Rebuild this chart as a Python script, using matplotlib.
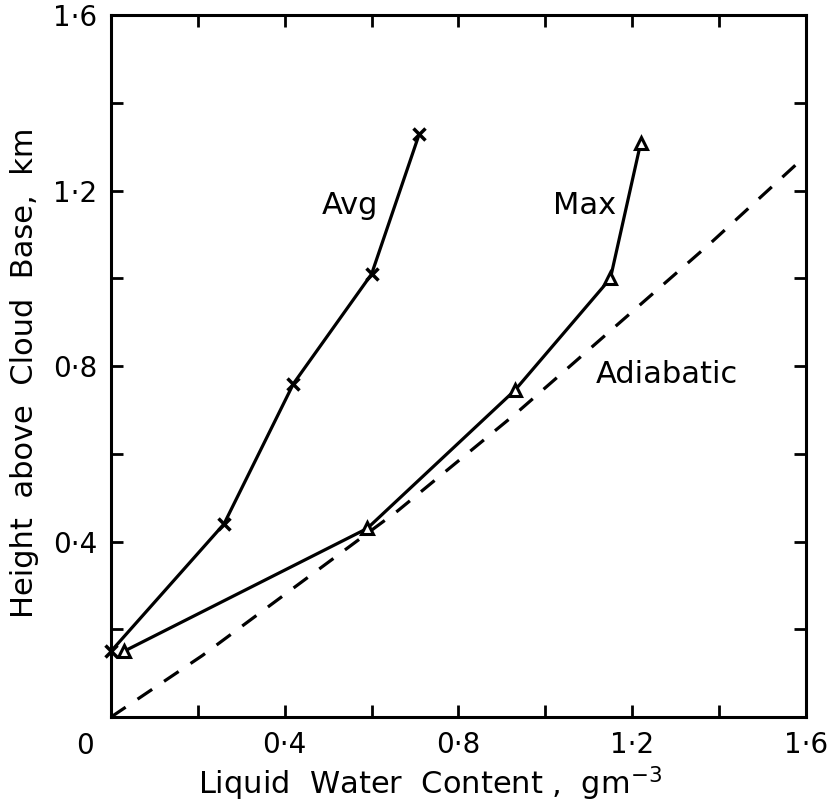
import matplotlib
matplotlib.use("Agg")
import matplotlib.pyplot as plt

plt.rcParams['font.family'] = ['DejaVu Sans']

# Liquid water content (g m^-3) vs height above cloud base (km)
avg_lwc = [0.0, 0.26, 0.42, 0.60, 0.71]
avg_height = [0.15, 0.44, 0.76, 1.01, 1.33]

max_lwc = [0.03, 0.59, 0.93, 1.15, 1.22]
max_height = [0.15, 0.43, 0.745, 1.00, 1.31]

adiabatic_lwc = [0.0, 0.21, 0.66, 0.93, 1.38, 1.60]
adiabatic_height = [0.0, 0.14, 0.47, 0.69, 1.08, 1.28]

major_ticks = [0.0, 0.2, 0.4, 0.6, 0.8, 1.0, 1.2, 1.4, 1.6]
labelled_ticks = [0.4, 0.8, 1.2, 1.6]


def dot_label(v):
    return f"{v:.1f}".replace('.', '\u00b7')


fig = plt.figure(figsize=(8.35, 8.07), dpi=100)
ax = fig.add_axes([0.133, 0.1115, 0.832, 0.8695])

lw = 2.3
ax.plot(avg_lwc, avg_height, color='black', lw=lw, marker='x',
        markersize=8, markeredgewidth=2.5, clip_on=False)
ax.plot(max_lwc, max_height, color='black', lw=lw, marker='^',
        markersize=9, markerfacecolor='white', markeredgewidth=2.2,
        clip_on=False)
ax.plot(adiabatic_lwc, adiabatic_height, color='black', lw=lw,
        dashes=(5.5, 4.5))

ax.set_xlim(0, 1.6)
ax.set_ylim(0, 1.6)

ax.set_xticks(major_ticks)
ax.set_yticks(major_ticks)
ax.set_xticklabels([dot_label(v) if v in labelled_ticks else '' for v in major_ticks])
ax.set_yticklabels([dot_label(v) if v in labelled_ticks else '' for v in major_ticks])
ax.tick_params(direction='in', length=8.5, width=2, top=True, right=True,
               labelsize=20)
ax.tick_params(axis='x', pad=10)
ax.tick_params(axis='y', pad=10)
for s in ax.spines.values():
    s.set_linewidth(2.2)

ax.text(-0.06, -0.065, '0', transform=ax.transData, fontsize=20,
        ha='center', va='center', clip_on=False)

ax.set_xlabel('Liquid  Water  Content ,  gm$^{-3}$', fontsize=22)
ax.set_ylabel('Height  above  Cloud  Base,  km', fontsize=22)
ax.xaxis.set_label_coords(0.459, -0.068)
ax.yaxis.set_label_coords(-0.103, 0.49)

ax.text(0.55, 1.166, 'Avg', fontsize=22, ha='center', va='center')
ax.text(1.09, 1.166, 'Max', fontsize=22, ha='center', va='center')
ax.text(1.28, 0.78, 'Adiabatic', fontsize=22, ha='center', va='center')

fig.savefig('out.png', dpi=100)
